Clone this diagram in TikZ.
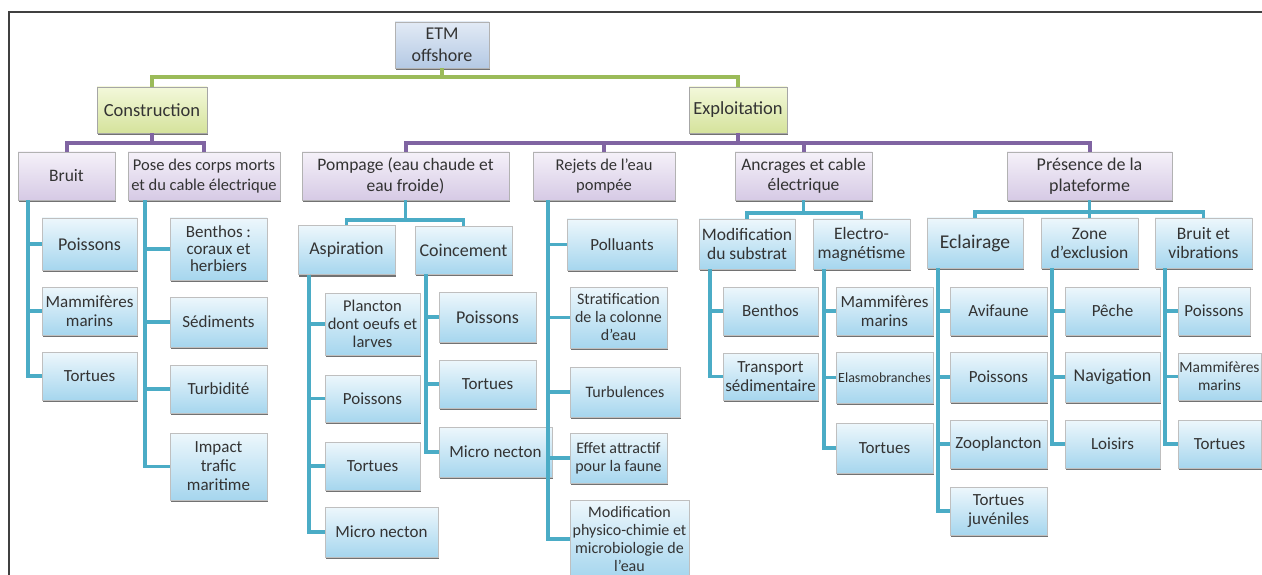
\documentclass[tikz,border=0pt]{standalone}
\usepackage{fontspec}
\setmainfont{Carlito}
\usetikzlibrary{shadows}

\definecolor{txtgray}{HTML}{333333}
\definecolor{greenln}{HTML}{9BBB59}
\definecolor{purpleln}{HTML}{8064A2}
\definecolor{blueln}{HTML}{4BACC6}
\definecolor{roottop}{HTML}{E2EAF5}
\definecolor{rootbot}{HTML}{B4C9E4}
\definecolor{greentop}{HTML}{F3F8DA}
\definecolor{greenbot}{HTML}{D5E39C}
\definecolor{purpletop}{HTML}{F5F1F9}
\definecolor{purplebot}{HTML}{D6CAE5}
\definecolor{bluetop}{HTML}{EDF7FC}
\definecolor{bluebot}{HTML}{A6D6EE}

\begin{document}
\begin{tikzpicture}[x=1pt,y=-1pt,
  fs/.style 2 args={font=\fontsize{#1}{#2}\selectfont},
  base/.style={rectangle, align=center, text=txtgray, inner sep=1pt,
    drop shadow={shadow xshift=1pt, shadow yshift=-2.2pt, fill=black!65, opacity=.85}},
  wh/.style 2 args={minimum width=#1, minimum height=#2},
  rootbox/.style={base, fs={18}{22}, draw=black!30, top color=roottop, bottom color=rootbot},
  phase/.style={base, fs={18.5}{22}, draw=black!35, top color=greentop, bottom color=greenbot},
  topic/.style={base, fs={17.5}{20.5}, draw=black!30, top color=purpletop, bottom color=purplebot},
  leaf/.style={base, fs={17}{18.5}, draw=black!25, top color=bluetop, bottom color=bluebot, wh={97}{48}},
  gline/.style={greenln, line width=4.5pt},
  pline/.style={purpleln, line width=4pt},
  bline/.style={blueln, line width=3.5pt}]

\useasboundingbox (0,0) rectangle (1262,575);
\draw[black!75, line width=1.5pt] (9,575) -- (9,12) -- (1262,12);

% bus heights
\coordinate (gbus) at (0,77);
\coordinate (pbus) at (0,143);
\coordinate (pompbus) at (0,220);
\coordinate (ancrbus) at (0,213);
\coordinate (presbus) at (0,212);

% root and phases
\node[rootbox, wh={94}{46}] (root) at (442,45) {ETM\\offshore};
\node[phase, wh={110}{46}] (constr) at (152,110) {Construction};
\node[phase, wh={98}{46}] (exploit) at (738,110) {Exploitation};

\draw[gline] (root.south) -- (root.south |- gbus) -| (constr.north);
\draw[gline] (root.south |- gbus) -| (exploit.north);

% sources of impact
\node[topic, wh={97}{48}] (bruit) at (66.5,176) {Bruit};
\node[topic, wh={152}{48}, fs={16.5}{20}] (pose) at (204,176) {Pose des corps morts\\et du cable électrique};
\node[topic, wh={207}{48}] (pomp) at (405.5,176) {Pompage (eau chaude et\\eau froide)};
\node[topic, wh={142}{48}, fs={16.5}{20}] (rejets) at (604,176) {Rejets de l'eau\\pompée};
\node[topic, wh={137}{48}] (ancr) at (803.5,176) {Ancrages et cable\\électrique};
\node[topic, wh={165}{48}, fs={18}{20.5}] (pres) at (1089.5,176) {Présence de la\\plateforme};

\draw[pline] (constr.south) -- (constr.south |- pbus) -| (bruit.north);
\draw[pline] (constr.south |- pbus) -| (pose.north);
\draw[pline] (exploit.south) -- (exploit.south |- pbus) -| (pomp.north);
\foreach \t in {rejets,ancr,pres}
  \draw[pline] (exploit.south |- pbus) -| (\t.north);

% intermediate effects
\node[leaf, wh={97}{49}, fs={18}{20}] (aspir) at (346.5,250) {Aspiration};
\node[leaf, fs={18}{20}] (coinc) at (463.5,250) {Coincement};
\node[leaf, wh={96}{50}, fs={17.5}{19}] (modsub) at (747,244) {Modification\\du substrat};
\node[leaf, wh={97}{50}, fs={17.5}{19}] (electro) at (861.5,244) {Electro-\\magnétisme};
\node[leaf, wh={96}{50}, fs={19.5}{20}] (eclair) at (975,243) {Eclairage};
\node[leaf, wh={97}{50}, fs={17.5}{19}] (zone) at (1089.5,243) {Zone\\d'exclusion};
\node[leaf, wh={97}{50}, fs={17.5}{19}] (bvib) at (1203.5,243) {Bruit et\\vibrations};

\foreach \t in {aspir,coinc}
  \draw[bline] (pomp.south) -- (pomp.south |- pompbus) -| (\t.north);
\foreach \t in {modsub,electro}
  \draw[bline] (ancr.south) -- (ancr.south |- ancrbus) -| (\t.north);
\foreach \t in {eclair,zone,bvib}
  \draw[bline] (pres.south) -- (pres.south |- presbus) -| (\t.north);

% Construction / Bruit
\node[leaf, wh={95}{52}, fs={18}{19}] (b1) at (89.5,244) {Poissons};
\node[leaf, wh={95}{48}] (b2) at (89.5,311) {Mammifères\\marins};
\node[leaf, wh={95}{48}] (b3) at (89.5,376) {Tortues};
% Construction / Pose
\node[leaf, wh={97}{62}, fs={17}{17}] (p1) at (218.5,249) {Benthos :\\coraux et\\herbiers};
\node[leaf, wh={97}{50}] (p2) at (218.5,322) {Sédiments};
\node[leaf] (p3) at (218.5,389) {Turbidité};
\node[leaf, wh={97}{67}, fs={17}{19}] (p4) at (218.5,466.5) {Impact\\trafic\\maritime};

% Pompage / Aspiration
\node[leaf, wh={95}{62}, fs={16.5}{18.3}] (a1) at (372.5,324) {Plancton\\dont oeufs et\\larves};
\node[leaf, wh={95}{47}] (a2) at (372.5,398.5) {Poissons};
\node[leaf, wh={95}{48}] (a3) at (372.5,466) {Tortues};
\node[leaf, wh={113}{50}] (a4) at (381.5,532) {Micro necton};
% Pompage / Coincement
\node[leaf, wh={97}{50}, fs={18}{19}] (c1) at (487.5,317) {Poissons};
\node[leaf] (c2) at (487.5,384) {Tortues};
\node[leaf, wh={113}{50}] (c3) at (495.5,452) {Micro necton};

% Rejets
\node[leaf, wh={110}{51}] (r1) at (622,244.5) {Polluants};
\node[leaf, wh={97}{61}, fs={16}{18}] (r2) at (618.5,317.5) {Stratification\\de la colonne\\d'eau};
\node[leaf, wh={110}{50}, fs={16}{18}] (r3) at (625,392) {Turbulences};
\node[leaf, wh={97}{50}, fs={16}{18}] (r4) at (618.5,458) {Effet attractif\\pour la faune};
\node[leaf, wh={119}{77}, fs={16}{17.7}] (r5) at (629.5,539) {Modification\\physico-chimie et\\microbiologie de\\l'eau};

% Ancrages
\node[leaf, wh={95}{48}] (m1) at (770.5,311) {Benthos};
\node[leaf, wh={95}{47}] (m2) at (770.5,376.5) {Transport\\sédimentaire};
\node[leaf] (e1) at (884.5,311) {Mammifères\\marins};
\node[leaf, wh={97}{51}, fs={14}{16}] (e2) at (884.5,377.5) {Elasmobranches};
\node[leaf, wh={97}{50}] (e3) at (884.5,448) {Tortues};

% Presence de la plateforme
\node[leaf] (l1) at (998.5,311) {Avifaune};
\node[leaf, wh={97}{50}] (l2) at (998.5,377) {Poissons};
\node[leaf] (l3) at (998.5,444) {Zooplancton};
\node[leaf] (l4) at (998.5,511) {Tortues\\juvéniles};
\node[leaf, wh={95}{48}] (z1) at (1112.5,311) {Pêche};
\node[leaf, wh={95}{50}, fs={18}{19}] (z2) at (1112.5,377) {Navigation};
\node[leaf, wh={95}{48}] (z3) at (1112.5,444) {Loisirs};
\node[leaf, wh={72}{48}] (v1) at (1214,311) {Poissons};
\node[leaf, wh={83}{47}, fs={15.5}{18}, inner sep=0pt] (v2) at (1219.5,376.5) {Mammifères\\marins};
\node[leaf, wh={83}{48}] (v3) at (1219.5,444) {Tortues};

% leaf connectors
\foreach \c in {b1,b2,b3} \draw[bline] ([xshift=10pt]bruit.south west) |- (\c.west);
\foreach \c in {p1,p2,p3,p4} \draw[bline] ([xshift=17pt]pose.south west) |- (\c.west);
\foreach \c in {a1,a2,a3,a4} \draw[bline] ([xshift=11pt]aspir.south west) |- (\c.west);
\foreach \c in {c1,c2,c3} \draw[bline] ([xshift=11pt]coinc.south west) |- (\c.west);
\foreach \c in {r1,r2,r3,r4,r5} \draw[bline] ([xshift=15pt]rejets.south west) |- (\c.west);
\foreach \c in {m1,m2} \draw[bline] ([xshift=11pt]modsub.south west) |- (\c.west);
\foreach \c in {e1,e2,e3} \draw[bline] ([xshift=11pt]electro.south west) |- (\c.west);
\foreach \c in {l1,l2,l3,l4} \draw[bline] ([xshift=11pt]eclair.south west) |- (\c.west);
\foreach \c in {z1,z2,z3} \draw[bline] ([xshift=11pt]zone.south west) |- (\c.west);
\foreach \c in {v1,v2,v3} \draw[bline] ([xshift=10pt]bvib.south west) |- (\c.west);
\end{tikzpicture}
\end{document}
